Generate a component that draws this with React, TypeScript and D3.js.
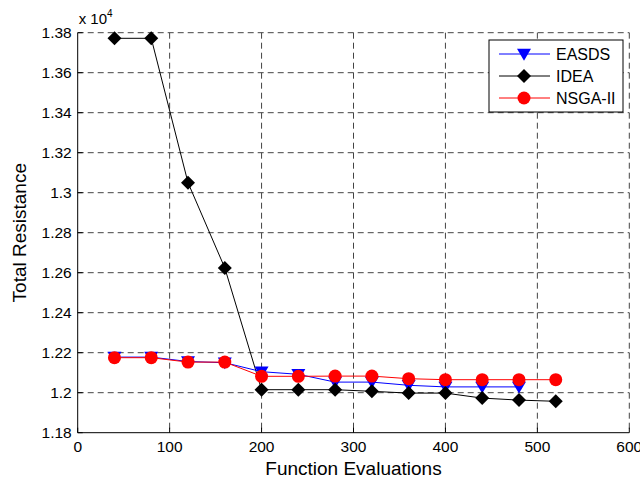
import React from "react";
import * as d3 from "d3";

const evalsIDEA = [40, 80, 120, 160, 200, 240, 280, 320, 360, 400, 440, 480, 520];
const valuesIDEA = [1.3772, 1.3772, 1.305, 1.2624, 1.2015, 1.2015, 1.2015, 1.2007, 1.1998, 1.1998, 1.1973, 1.1963, 1.1957];
const evalsEASDS = [40, 80, 120, 160, 200, 240, 280, 320, 360, 400, 440, 480];
const valuesEASDS = [1.2178, 1.2178, 1.2156, 1.2150, 1.2105, 1.2092, 1.2053, 1.2053, 1.2037, 1.2029, 1.2029, 1.2029];
const evalsNSGA = [40, 80, 120, 160, 200, 240, 280, 320, 360, 400, 440, 480, 520];
const valuesNSGA = [1.2175, 1.2175, 1.2153, 1.2153, 1.2082, 1.2082, 1.2083, 1.2083, 1.2070, 1.2065, 1.2065, 1.2065, 1.2065];
const xTicks = [0, 100, 200, 300, 400, 500, 600];
const yTicks = [1.18, 1.2, 1.22, 1.24, 1.26, 1.28, 1.3, 1.32, 1.34, 1.36, 1.38];
const legendNames = ["EASDS", "IDEA", "NSGA-II"];

const W = 640, H = 484;
const L = 77.7, R = 629.3, T = 32.7, B = 432.7;

export default function App() {
  const x = d3.scaleLinear().domain([0, 600]).range([L, R]);
  const y = d3.scaleLinear().domain([1.18, 1.38]).range([B, T]);
  const line = d3.line<[number, number]>().x(d => x(d[0])).y(d => y(d[1]));
  const font = "'Liberation Sans', Arial, sans-serif";
  const ptsE = evalsEASDS.map((e, i) => [e, valuesEASDS[i]] as [number, number]);
  const ptsI = evalsIDEA.map((e, i) => [e, valuesIDEA[i]] as [number, number]);
  const ptsN = evalsNSGA.map((e, i) => [e, valuesNSGA[i]] as [number, number]);
  const tri = (cx: number, cy: number, s = 7) => `M${cx - s},${cy - s * 0.75}L${cx + s},${cy - s * 0.75}L${cx},${cy + s * 0.95}Z`;
  const dia = (cx: number, cy: number, s = 7) => `M${cx},${cy - s}L${cx + s},${cy}L${cx},${cy + s}L${cx - s},${cy}Z`;
  const legX1 = 499, legX2 = 550, legMid = 524;
  const legY = [54, 76, 98];
  return (
    <svg width={W} height={H} style={{ position: "absolute", left: 0, top: 0, background: "#fff" }} fontFamily={font}>
      <rect x={0} y={0} width={W} height={H} fill="#fff" />
      {xTicks.filter(t => t > 0).map(t => (
        <line key={"gx" + t} x1={x(t)} x2={x(t)} y1={T} y2={B} stroke="#444" strokeWidth={1} strokeDasharray="6,4" />
      ))}
      {yTicks.filter(t => t > 1.18).map(t => (
        <line key={"gy" + t} x1={L} x2={R} y1={y(t)} y2={y(t)} stroke="#444" strokeWidth={1} strokeDasharray="6,4" />
      ))}
      <line x1={L} x2={L} y1={T} y2={B} stroke="#000" strokeWidth={1} />
      <line x1={L} x2={R} y1={B} y2={B} stroke="#000" strokeWidth={1} />
      {xTicks.map(t => (
        <g key={"xt" + t}>
          <line x1={x(t)} x2={x(t)} y1={B} y2={B - 5} stroke="#000" />
          <text x={x(t)} y={B + 19} fontSize={15.5} textAnchor="middle" fill="#000">{t}</text>
        </g>
      ))}
      {yTicks.map(t => (
        <g key={"yt" + t}>
          <line x1={L} x2={L + 5} y1={y(t)} y2={y(t)} stroke="#000" />
          <text x={L - 6} y={y(t) + 5.5} fontSize={15.5} textAnchor="end" fill="#000">{d3.format("")(+t.toFixed(2))}</text>
        </g>
      ))}
      <text x={L + 1} y={24} fontSize={15} fill="#000">x 10<tspan dy={-7} fontSize={10}>4</tspan></text>
      <text x={(L + R) / 2} y={475} fontSize={19} textAnchor="middle" fill="#000">Function Evaluations</text>
      <text transform={`translate(26,${(T + B) / 2}) rotate(-90)`} fontSize={19} textAnchor="middle" fill="#000">Total Resistance</text>
      <path d={line(ptsI) || ""} fill="none" stroke="#000" strokeWidth={1} />
      <path d={line(ptsE) || ""} fill="none" stroke="#0000ff" strokeWidth={1} />
      <path d={line(ptsN) || ""} fill="none" stroke="#ff0000" strokeWidth={1} />
      {ptsE.map((p, i) => <path key={"me" + i} d={tri(x(p[0]), y(p[1]))} fill="#0000ff" />)}
      {ptsI.map((p, i) => <path key={"mi" + i} d={dia(x(p[0]), y(p[1]))} fill="#000" />)}
      {ptsN.map((p, i) => <circle key={"mn" + i} cx={x(p[0])} cy={y(p[1])} r={6.5} fill="#ff0000" />)}
      <rect x={489} y={40} width={134} height={72} fill="#fff" stroke="#000" strokeWidth={1} />
      <line x1={legX1} x2={legX2} y1={legY[0]} y2={legY[0]} stroke="#0000ff" />
      <path d={tri(legMid, legY[0])} fill="#0000ff" />
      <line x1={legX1} x2={legX2} y1={legY[1]} y2={legY[1]} stroke="#000" />
      <path d={dia(legMid, legY[1])} fill="#000" />
      <line x1={legX1} x2={legX2} y1={legY[2]} y2={legY[2]} stroke="#ff0000" />
      <circle cx={legMid} cy={legY[2]} r={6.5} fill="#ff0000" />
      {legendNames.map((n, i) => (
        <text key={n} x={556} y={legY[i] + 6} fontSize={16} fill="#000">{n}</text>
      ))}
    </svg>
  );
}
